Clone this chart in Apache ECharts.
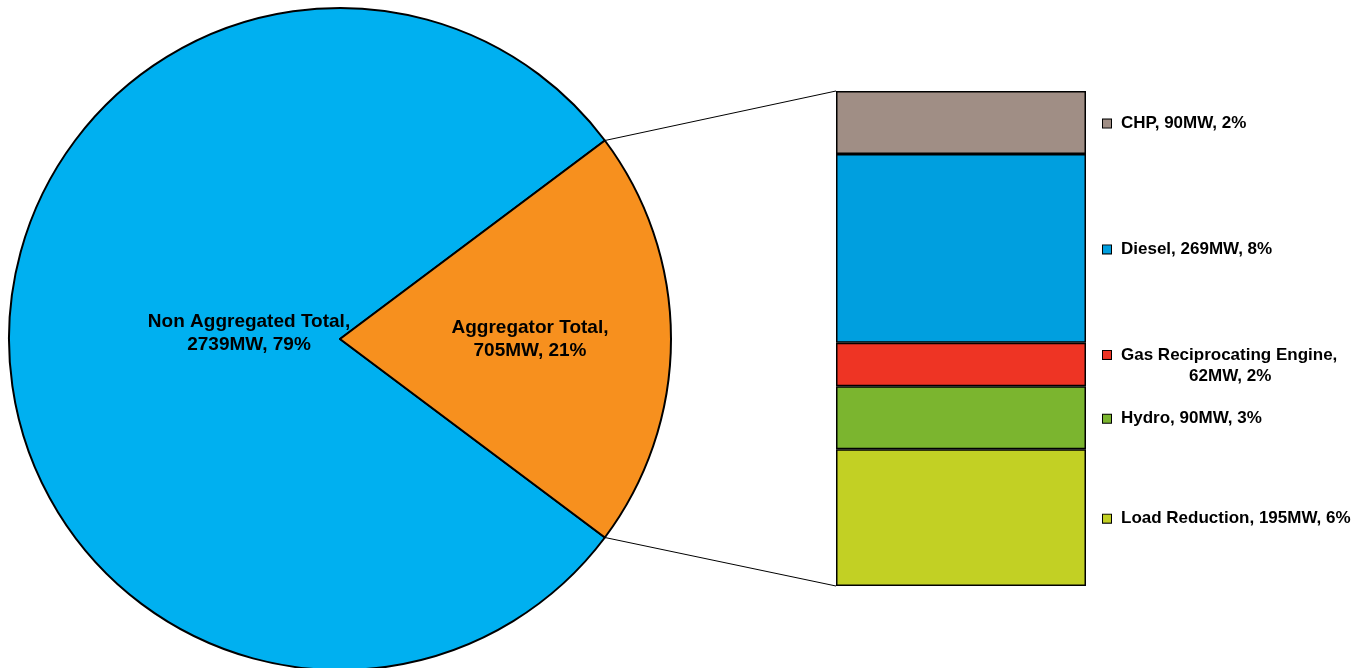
<!DOCTYPE html>
<html>
<head>
<meta charset="utf-8">
<script src="https://cdn.jsdelivr.net/npm/echarts@6/dist/echarts.min.js"></script>
<style>
html,body{margin:0;padding:0;background:#fff;}
#chart{width:1370px;height:668px;}
</style>
</head>
<body>
<div id="chart"></div>
<script>
// ---- data ----
const pieNames = ['Non Aggregated Total', 'Aggregator Total'];
const pieValues = [2739, 705];
const piePct = ['79%', '21%'];
const pieColors = ['#00B0F0', '#F7901E'];

// stacked bar, bottom to top
const barNames = ['Load Reduction', 'Hydro', 'Gas Reciprocating Engine', 'Diesel', 'CHP'];
const barValues = [195, 90, 62, 269, 90];
const barPct = ['6%', '3%', '2%', '8%', '2%'];
const barColors = ['#C2D024', '#7BB52F', '#EE3424', '#009FDF', '#A08E85'];

// ---- layout ----
const CX = 340, CY = 339, R = 331;
const GRID = {left: 836, top: 91, width: 250, height: 495};

const pieTotal = pieValues.reduce((a, b) => a + b, 0);
const barTotal = barValues.reduce((a, b) => a + b, 0);
const halfAngle = pieValues[1] / pieTotal * 180; // degrees
const labelOffsets = [[-91, -6], [190, 0]];

const chart = echarts.init(document.getElementById('chart'), null, {renderer: 'canvas'});

const barSeries = barNames.map((name, i) => {
  const isGas = name === 'Gas Reciprocating Engine';
  return {
    type: 'bar',
    name: name,
    stack: 'agg',
    barWidth: '100%',
    data: [barValues[i]],
    itemStyle: {color: barColors[i], borderColor: '#000', borderWidth: 1.5},
    z: 3,
    label: {
      show: true,
      position: 'right',
      distance: 17,
      offset: [0, 1],
      color: '#000',
      fontFamily: 'Liberation Sans, Arial, sans-serif',
      fontWeight: 'bold',
      fontSize: 17,
      lineHeight: 21,
      formatter: isGas
        ? '{sq|}{t|' + name + ',}\n{t2|' + barValues[i] + 'MW, ' + barPct[i] + '}'
        : '{sq|}{t|' + name + ', ' + barValues[i] + 'MW, ' + barPct[i] + '}',
      rich: {
        sq: {width: 8, height: 8, backgroundColor: barColors[i], borderColor: '#000', borderWidth: 1},
        t: {padding: [0, 0, 0, 10], fontWeight: 'bold', fontSize: 17, color: '#000', fontFamily: 'Liberation Sans, Arial, sans-serif'},
        t2: {align: 'center', padding: [0, 0, 0, 20], fontWeight: 'bold', fontSize: 17, color: '#000', fontFamily: 'Liberation Sans, Arial, sans-serif'}
      }
    }
  };
});

const option = {
  backgroundColor: '#fff',
  animation: false,
  grid: Object.assign({containLabel: false}, GRID),
  xAxis: {type: 'category', data: ['Aggregator'], show: false},
  yAxis: {type: 'value', min: 0, max: barTotal, show: false},
  series: [
    {
      type: 'pie',
      center: [CX, CY],
      radius: [0, R],
      startAngle: 360 - halfAngle,
      clockwise: true,
      z: 3,
      data: pieNames.map((n, i) => ({
        name: n, value: pieValues[i],
        itemStyle: {color: pieColors[i], borderColor: '#000', borderWidth: 2}
      })),
      label: {
        show: true,
        position: 'inside',
        color: '#000',
        fontFamily: 'Liberation Sans, Arial, sans-serif',
        fontWeight: 'bold',
        fontSize: 19,
        lineHeight: 23,
        align: 'center',
        formatter: p => p.name + ',\n' + p.value + 'MW, ' + piePct[p.dataIndex]
      },
      labelLine: {show: false},
      labelLayout: p => ({
        x: CX + labelOffsets[p.dataIndex][0],
        y: CY + labelOffsets[p.dataIndex][1],
        align: 'center',
        verticalAlign: 'middle'
      }),
      emphasis: {disabled: true}
    }
  ].concat(barSeries)
};

chart.setOption(option);

// connector lines from pie slice edge to bar corners
const rad = halfAngle * Math.PI / 180;
const pTop = [CX + R * Math.cos(rad), CY - R * Math.sin(rad)];
const pBot = [CX + R * Math.cos(rad), CY + R * Math.sin(rad)];
const yTop = chart.convertToPixel({yAxisIndex: 0}, barTotal);
const yBot = chart.convertToPixel({yAxisIndex: 0}, 0);
chart.setOption({
  graphic: [
    {type: 'line', z: 1, shape: {x1: pTop[0], y1: pTop[1], x2: GRID.left, y2: yTop}, style: {stroke: '#000', lineWidth: 1}},
    {type: 'line', z: 1, shape: {x1: pBot[0], y1: pBot[1], x2: GRID.left, y2: yBot}, style: {stroke: '#000', lineWidth: 1}}
  ]
});
</script>
</body>
</html>
